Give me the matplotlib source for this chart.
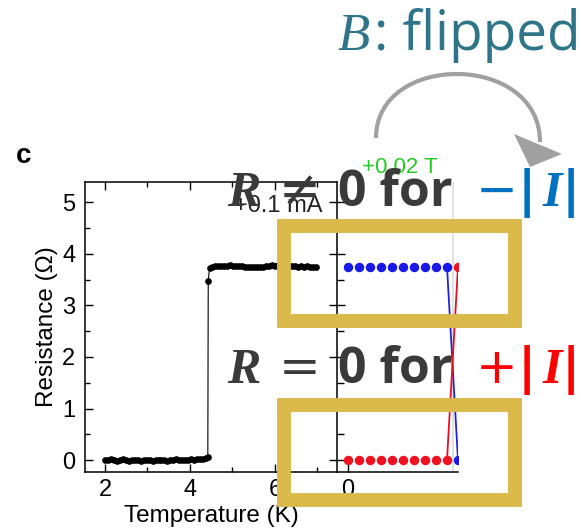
import matplotlib
matplotlib.use('Agg')
import matplotlib.pyplot as plt
from matplotlib.patches import Rectangle, PathPatch, Polygon
from matplotlib.path import Path
from matplotlib.ticker import MultipleLocator

plt.rcParams['font.family'] = ['Liberation Sans', 'DejaVu Sans']

W, H = 581, 530

# panel c (left): R(T) at +0.1 mA
temp_low = [2.00, 2.07, 2.14, 2.21, 2.28, 2.35, 2.42, 2.49, 2.56, 2.63, 2.70, 2.77,
            2.84, 2.91, 2.98, 3.05, 3.12, 3.19, 3.26, 3.33, 3.40, 3.47, 3.54, 3.61,
            3.68, 3.75, 3.82, 3.89, 3.96, 4.03, 4.10, 4.17, 4.24, 4.31, 4.37, 4.42]
res_low = [0.01, 0.00, 0.02, 0.00, -0.01, 0.01, 0.02, 0.00, -0.01, 0.01, 0.00, 0.01,
           -0.01, 0.00, 0.01, 0.00, -0.01, 0.01, 0.00, 0.01, 0.00, -0.01, 0.01, 0.00,
           0.02, 0.00, 0.01, 0.00, 0.01, 0.02, 0.01, 0.02, 0.02, 0.03, 0.04, 0.06]
temp_jump = [4.43]
res_jump = [3.48]
temp_high = [4.46, 4.52, 4.59, 4.66, 4.73, 4.80, 4.87, 4.94, 5.01, 5.08, 5.15, 5.22,
             5.29, 5.36, 5.43, 5.50, 5.57, 5.64, 5.71, 5.78, 5.85, 5.92, 5.99, 6.06,
             6.13, 6.20, 6.27, 6.34, 6.41, 6.48, 6.55, 6.62, 6.69, 6.76, 6.83, 6.90, 6.97]
res_high = [3.72, 3.75, 3.76, 3.76, 3.77, 3.76, 3.77, 3.78, 3.77, 3.76, 3.77, 3.76,
            3.75, 3.74, 3.75, 3.74, 3.75, 3.74, 3.75, 3.76, 3.77, 3.78, 3.77, 3.79,
            3.77, 3.76, 3.77, 3.76, 3.77, 3.76, 3.75, 3.76, 3.75, 3.76, 3.75, 3.75, 3.75]

# right panel (+0.02 T): blue = -|I|, red = +|I|
point_idx = [0, 1, 2, 3, 4, 5, 6, 7, 8, 9, 10]
res_neg = [3.75, 3.75, 3.75, 3.75, 3.75, 3.75, 3.75, 3.75, 3.75, 3.75, 0.0]
res_pos = [0.0, 0.0, 0.0, 0.0, 0.0, 0.0, 0.0, 0.0, 0.0, 0.0, 3.75]

TEAL = '#2f7589'
GOLD = '#dbba4c'
DARK = '#3a3a3a'
BLUE_TXT = '#0070c0'


def px(x, y):
    # image pixel (from top-left) -> figure fraction
    return (x / W, 1 - y / H)


fig = plt.figure(figsize=(W / 100, H / 100), dpi=100)

ax1 = fig.add_axes([85 / W, 1 - 472 / H, (337 - 85) / W, (472 - 182) / H])
temps = temp_low + temp_jump + temp_high
res = res_low + res_jump + res_high
ax1.plot(temps, res, '-o', color='k', lw=0.8, ms=3.8)
ax1.set_xlim(1.53, 7.46)
ax1.set_ylim(-0.23, 5.39)
ax1.xaxis.set_major_locator(MultipleLocator(2))
ax1.xaxis.set_minor_locator(MultipleLocator(1))
ax1.yaxis.set_major_locator(MultipleLocator(1))
ax1.yaxis.set_minor_locator(MultipleLocator(0.5))
ax1.tick_params(which='both', direction='in', top=True, right=False, width=1)
ax1.tick_params(which='major', length=6, labelsize=17)
ax1.tick_params(which='minor', length=3.5)
ax1.tick_params(axis='y', which='major', pad=7)
ax1.tick_params(axis='x', which='major', pad=5)
ax1.spines['right'].set_visible(False)
for s in ['left', 'bottom', 'top']:
    ax1.spines[s].set_linewidth(1.1)
ax1.set_xlabel('Temperature (K)', fontsize=17.5, labelpad=3)
ax1.set_ylabel('Resistance (Ω)', fontsize=17.5, labelpad=3)
ax1.text(6.07, 4.8, '+0.1 mA', ha='center', va='baseline', fontsize=17, color='#222222')

ax2 = fig.add_axes([337 / W, 1 - 472 / H, (458 - 337) / W, (472 - 182) / H], sharey=ax1)
ax2.axvline(9.55, color='#dcdcdc', lw=1.2, zorder=0)
ax2.plot(point_idx[-2:], res_neg[-2:], color='#2020e0', lw=1.3)
ax2.plot(point_idx[-2:], res_pos[-2:], color='#e81020', lw=1.3)
ax2.plot(point_idx, res_neg, 'o', color='#1818e8', ms=5.8)
ax2.plot(point_idx, res_pos, 'o', color='#f01020', ms=5.8)
ax2.set_xlim(-1, 10)
ax2.set_xticks([0])
ax2.tick_params(axis='x', direction='in', length=6, labelsize=17, width=1, pad=5)
ax2.tick_params(axis='y', which='major', direction='inout', length=11, width=1, labelleft=False)
ax2.tick_params(axis='y', which='minor', direction='in', length=5, width=1)
ax2.spines['top'].set_visible(False)
ax2.spines['right'].set_visible(False)
ax2.spines['left'].set_linewidth(1.1)
ax2.spines['bottom'].set_linewidth(1.1)

fig.text(*px(400, 173), '+0.02 T', color='#22cc22', fontsize=16, ha='center', va='baseline')
fig.text(*px(16, 163), 'c', fontsize=20, fontweight='bold', ha='left', va='baseline')

# gold boxes
for (x0, y0, x1, y1) in [(284, 226, 515, 320.5), (284, 405, 515, 499.5)]:
    fig.add_artist(Rectangle(px(x0, y1), (x1 - x0) / W, (y1 - y0) / H,
                             transform=fig.transFigure, fill=False, ec=GOLD,
                             lw=10, zorder=10, joinstyle='miter'))

# curved arrow
verts = [px(376, 138), px(376, 52), px(540, 52), px(540, 142)]
arc = Path(verts, [Path.MOVETO, Path.CURVE4, Path.CURVE4, Path.CURVE4])
fig.add_artist(PathPatch(arc, transform=fig.transFigure, fill=False,
                         ec='#a0a0a0', lw=3, zorder=11))
fig.add_artist(Polygon([px(514, 134), px(562, 154), px(530, 167)], closed=True,
                       transform=fig.transFigure, fc='#a0a0a0', ec='none', zorder=11))

# overlay text
serif_bi = dict(family=['Liberation Serif', 'DejaVu Serif'], style='italic', weight='bold')
sans_b = dict(family=['Open Sans', 'DejaVu Sans'], weight='bold')
math_f = dict(family=['DejaVu Sans'])
BIG = 36


def put(x, y, s, color, ha='left', size=BIG, **font):
    fig.text(*px(x, y), s, color=color, fontsize=size, ha=ha, va='baseline',
             zorder=12, **font)


for yb, rel, sign, col in [(206, '≠', '−', BLUE_TXT), (383, '=', '+', '#ff0000')]:
    put(227, yb, 'R', DARK, **serif_bi)
    put(300, yb, rel, DARK, ha='center', **math_f)
    put(338, yb, '0 for', DARK, **sans_b)
    put(497, yb, sign, col, ha='center', **math_f)
    put(527, yb, '|', col, ha='center', family=['DejaVu Sans'], weight='bold')
    put(552, yb, 'I', col, ha='center', **serif_bi)
    put(571, yb, '|', col, ha='center', family=['DejaVu Sans'], weight='bold')

put(338, 50, 'B', TEAL, size=38, family=['Liberation Serif', 'DejaVu Serif'], style='italic')
put(374, 50, ': flipped', TEAL, size=39.5, family=['Open Sans', 'DejaVu Sans'])

fig.savefig('out.png', dpi=100)
